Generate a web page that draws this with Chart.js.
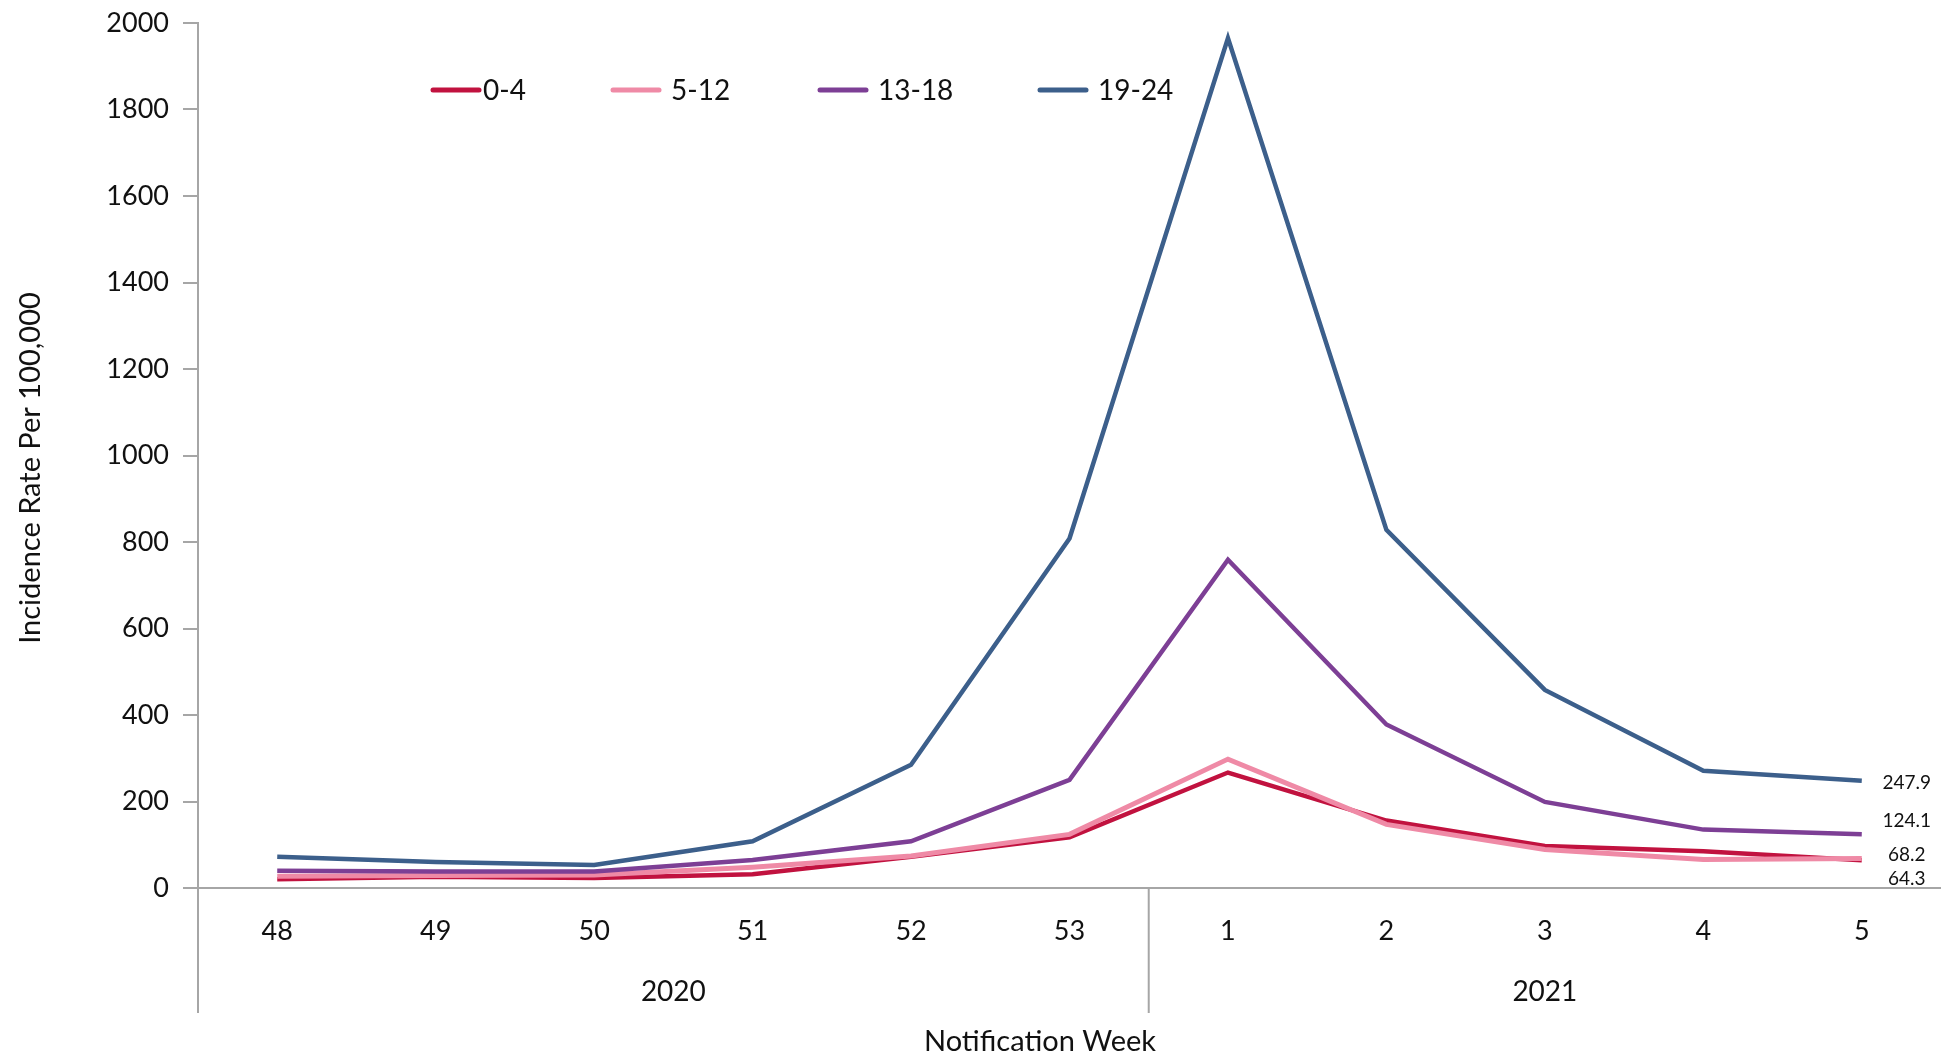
<!DOCTYPE html>
<html><head><meta charset="utf-8">
<script src="https://cdn.jsdelivr.net/npm/chart.js@4/dist/chart.umd.min.js"></script>
<style>html,body{margin:0;padding:0;background:#fff;overflow:hidden}#wrap{width:1941px;height:1058px;position:relative}</style>
</head><body><div id="wrap"><canvas id="c" width="1941" height="1058"></canvas></div>
<script>
// ---- data ----
const weeks = ['48','49','50','51','52','53','1','2','3','4','5'];
const years = ['2020','2021'];
const yearSpan = [6, 5];
const seriesNames = ['0-4','5-12','13-18','19-24'];
const age0to4   = [20, 26, 23, 32, 72, 117, 267, 156, 97, 85, 64.3];
const age5to12  = [27, 29, 30, 48, 74, 124, 298, 147, 89, 66, 68.2];
const age13to18 = [40, 38, 38, 65, 108, 250, 759, 378, 199, 135, 124.1];
const age19to24 = [72, 60, 53, 108, 285, 808, 1965, 828, 458, 271, 247.9];
const yMin = 0, yMax = 2000, yStep = 200;

// ---- style ----
const colors = ['#C1123F', '#EF8AA6', '#7D3F95', '#3C5F8B'];
const lineWidths = [4.5, 5, 4.5, 4.5];
const endLabelDy = [19, -4, -13, 2];
const legendX = [433, 613, 820, 1040];
const axisGray = '#A6A6A6';
const textFont = 'Lato, "Open Sans", sans-serif';

const allSeries = [age0to4, age5to12, age13to18, age19to24];

const overlay = {
  id: 'overlay',
  afterDraw(chart) {
    const ctx = chart.ctx, ca = chart.chartArea, xs = chart.scales.x, ys = chart.scales.y;
    const bottomY = 1013;
    ctx.save();
    ctx.strokeStyle = axisGray; ctx.lineWidth = 2;
    ctx.beginPath(); ctx.moveTo(ca.left, ca.bottom); ctx.lineTo(ca.left, bottomY); ctx.stroke();
    let start = 0;
    let leftEdge = ca.left;
    ctx.fillStyle = '#111';
    ctx.font = '28px ' + textFont;
    ctx.textAlign = 'center'; ctx.textBaseline = 'middle';
    years.forEach((yr, i) => {
      const end = start + yearSpan[i] - 1;
      let rightEdge;
      if (end + 1 < weeks.length) {
        rightEdge = (xs.getPixelForValue(end) + xs.getPixelForValue(end + 1)) / 2;
        ctx.beginPath(); ctx.moveTo(rightEdge, ca.bottom); ctx.lineTo(rightEdge, bottomY); ctx.stroke();
      } else {
        rightEdge = ca.right;
      }
      ctx.fillText(yr, (leftEdge + rightEdge) / 2, 992);
      leftEdge = rightEdge;
      start = end + 1;
    });
    ctx.font = '29px ' + textFont;
    ctx.fillText('Notification Week', 1040, 1042);
    ctx.save();
    ctx.translate(31, 468); ctx.rotate(-Math.PI / 2);
    ctx.font = '29px ' + textFont;
    ctx.fillText('Incidence Rate Per 100,000', 0, 0);
    ctx.restore();
    // legend
    ctx.textAlign = 'left';
    ctx.font = '28px ' + textFont;
    seriesNames.forEach((n, i) => {
      const x0 = legendX[i];
      ctx.strokeStyle = colors[i]; ctx.lineWidth = 5; ctx.lineCap = 'round';
      ctx.beginPath(); ctx.moveTo(x0, 90); ctx.lineTo(x0 + 46, 90); ctx.stroke();
      ctx.fillStyle = '#111';
      ctx.fillText(n, x0 + (i === 0 ? 50 : 58), 91);
    });
    // end labels
    ctx.font = '19px ' + textFont;
    ctx.textAlign = 'center';
    allSeries.forEach((s, i) => {
      const last = s.length - 1;
      const px = xs.getPixelForValue(last), py = ys.getPixelForValue(s[last]);
      ctx.fillStyle = '#111';
      ctx.fillText(s[last].toFixed(1), px + 45, py + endLabelDy[i]);
    });
    ctx.restore();
  }
};

new Chart(document.getElementById('c'), {
  type: 'line',
  data: {
    labels: weeks,
    datasets: seriesNames.map((n, i) => ({
      label: n,
      data: allSeries[i],
      borderColor: colors[i],
      backgroundColor: colors[i],
      borderWidth: lineWidths[i],
      pointRadius: 0,
      tension: 0,
      fill: false,
      order: 4 - i
    }))
  },
  options: {
    responsive: false,
    animation: false,
    layout: { padding: { top: 23, right: 0, left: 0, bottom: 0 } },
    plugins: { legend: { display: false }, tooltip: { enabled: false } },
    scales: {
      x: {
        type: 'category',
        offset: true,
        grid: { display: false, drawTicks: false },
        border: { color: axisGray, width: 2 },
        ticks: { font: { family: textFont, size: 27 }, color: '#111', padding: 27, maxRotation: 0 },
        afterFit(scale) { scale.height = 170; scale.paddingLeft = 0; scale.paddingRight = 0; }
      },
      y: {
        min: yMin, max: yMax,
        ticks: { stepSize: yStep, font: { family: textFont, size: 27 }, color: '#111', padding: 14,
                 callback: (v) => String(v) },
        grid: { drawOnChartArea: false, drawTicks: true, tickLength: 15, color: axisGray, lineWidth: 2 },
        border: { color: axisGray, width: 2 },
        afterFit(scale) { scale.width = 198; scale.paddingTop = 0; scale.paddingBottom = 0; }
      }
    }
  },
  plugins: [overlay]
});
</script>
</body></html>
